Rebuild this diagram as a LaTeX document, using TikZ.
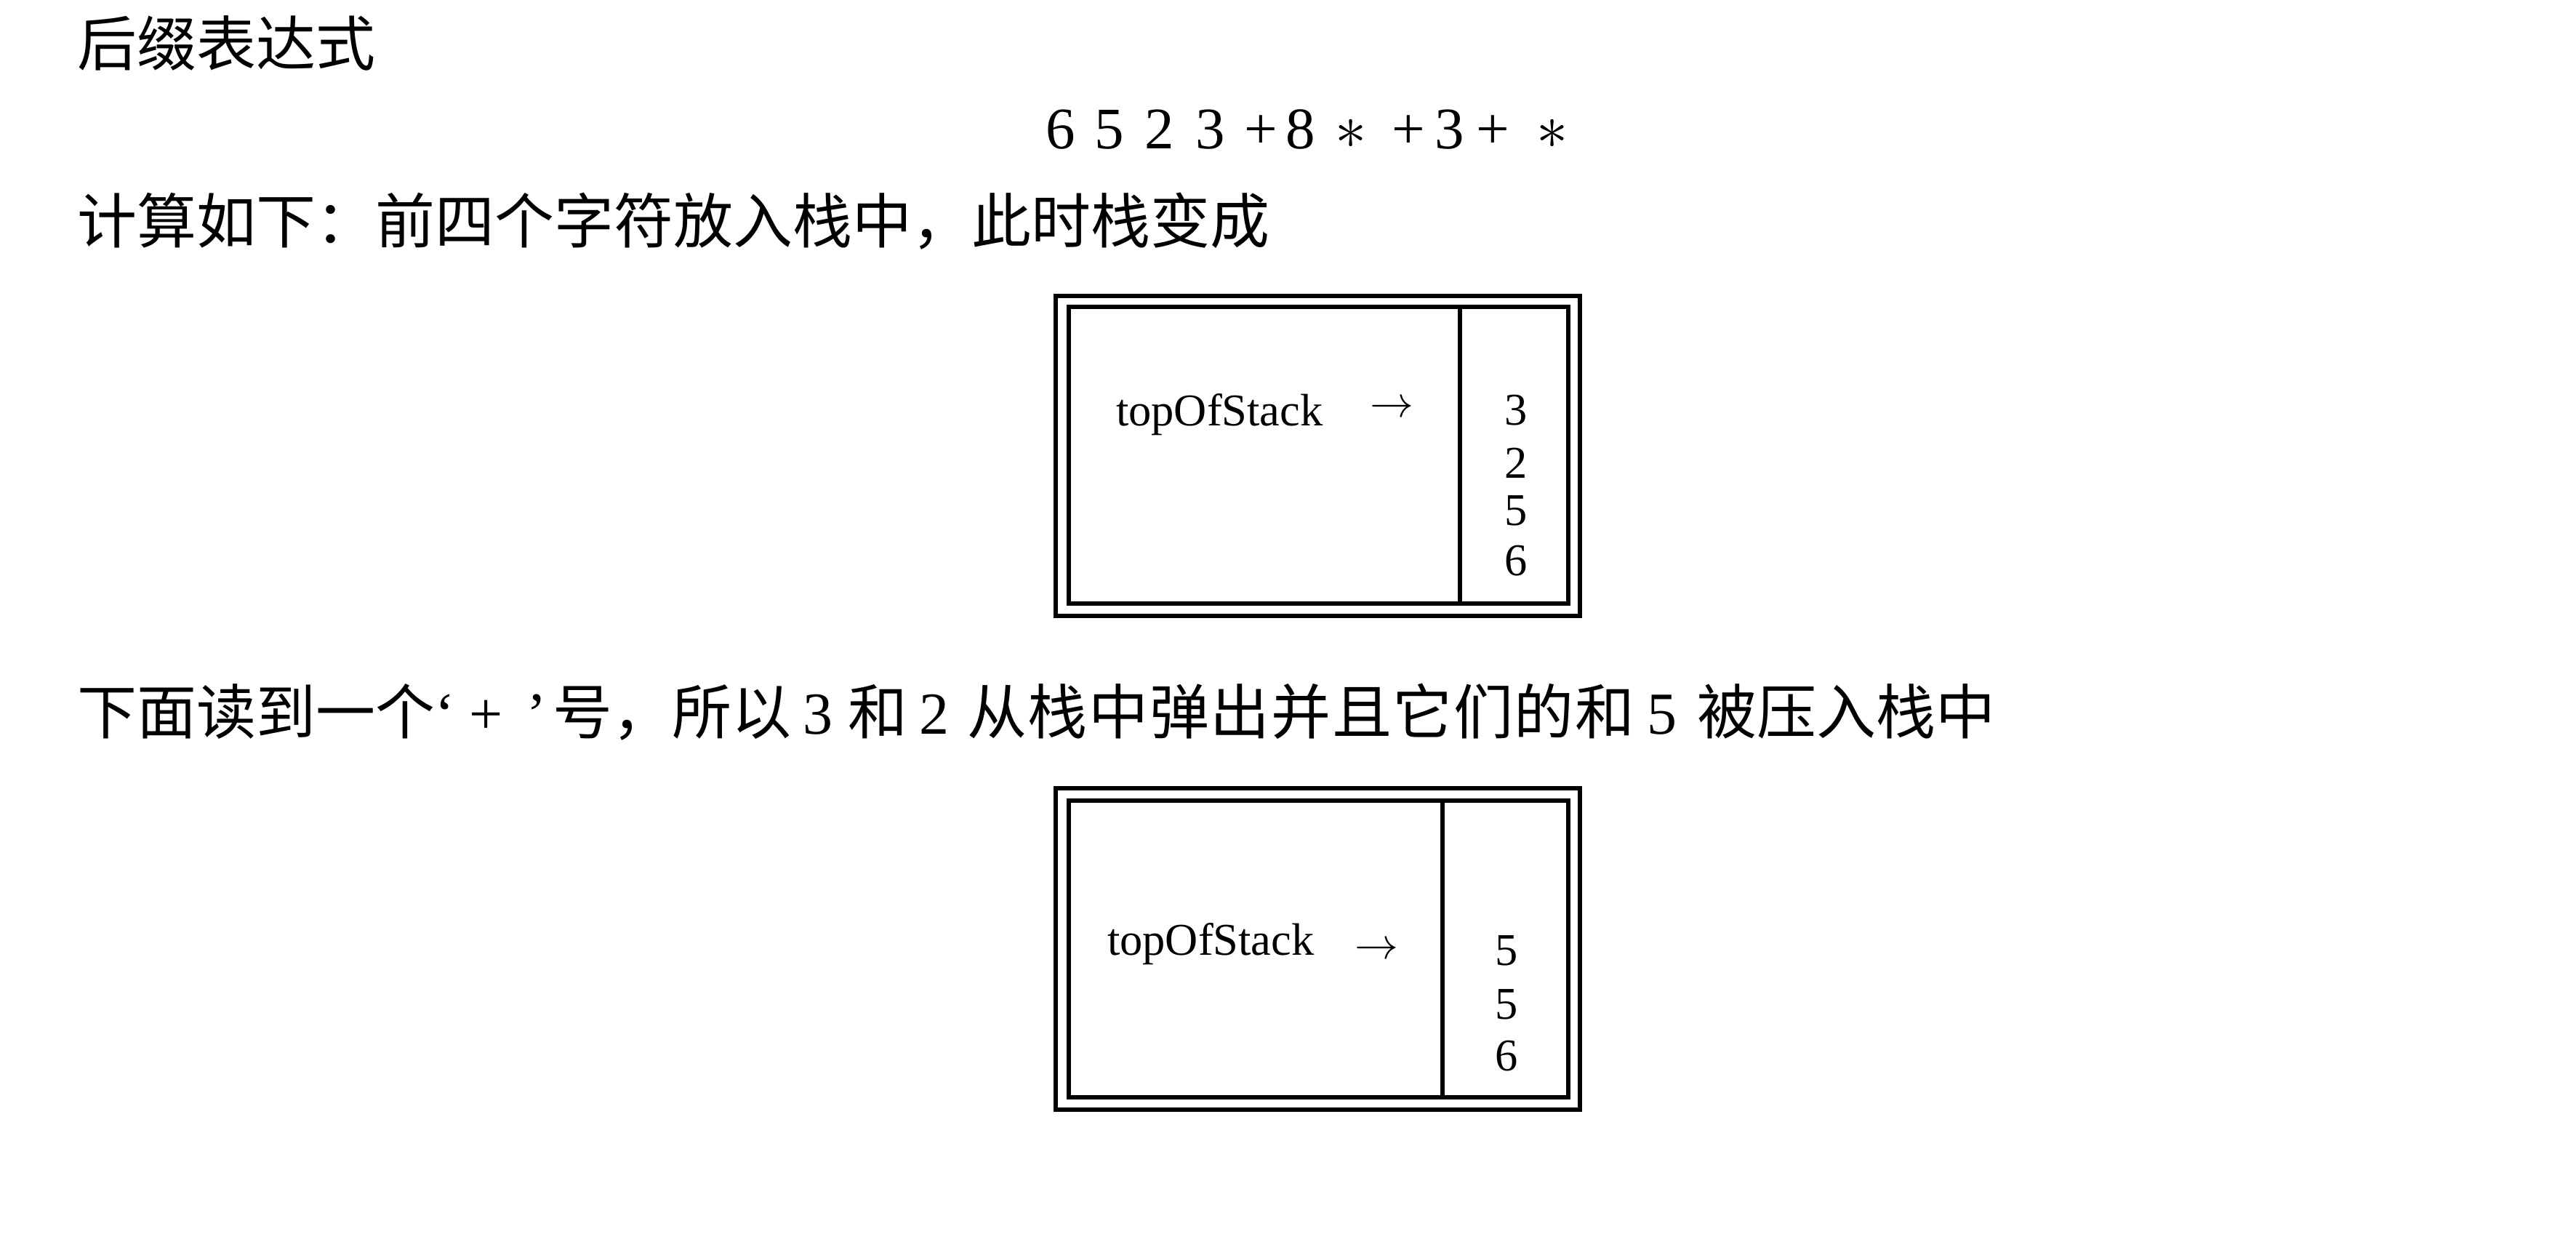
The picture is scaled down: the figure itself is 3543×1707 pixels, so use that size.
\documentclass[tikz,border=0pt]{standalone}
\usepackage{fontspec}
\setmainfont{Liberation Serif}
\newfontfamily\cjk{Noto Sans CJK SC}
\tikzset{
  frame/.style={line width=1.1pt},
  bigtext/.style={font=\fontsize{16.4pt}{20pt}\selectfont, anchor=base west, inner sep=0pt},
  boxtext/.style={font=\fontsize{12.5pt}{15pt}\selectfont, anchor=base west, inner sep=0pt},
  stacknum/.style={font=\fontsize{12.5pt}{15pt}\selectfont, anchor=base, inner sep=0pt},
  ptr/.style={font=\fontsize{12.5pt}{15pt}\selectfont, inner sep=0pt},
}
\begin{document}
\begin{tikzpicture}[x=0.2pt,y=-0.2pt]
\useasboundingbox (0,0) rectangle (3543,1707);
% text lines
\node[bigtext] (title) at (105,90) {\cjk 后缀表达式};
\node[bigtext, font=\fontsize{16.2pt}{20pt}\selectfont] (expr) at (1437,204)
  {6\hspace{5.4pt}5\hspace{5.8pt}2\hspace{5.8pt}3\hspace{5.4pt}+\hspace{2.2pt}8\hspace{5.4pt}$\ast$\hspace{7pt}+\hspace{2.6pt}3\hspace{3.4pt}+\hspace{7.4pt}$\ast$};
\node[bigtext] (calc) at (105,334) {\cjk 计算如下：前四个字符放入栈中，此时栈变成};
\node[bigtext] (next) at (105,1009) {{\cjk 下面读到一个}‘\hspace{0.25em}+\hspace{0.4em}’\hspace{0.1em}{\cjk 号，所以}\hspace{0.2em}3\hspace{0.25em}{\cjk 和}\hspace{0.2em}2\hspace{0.3em}{\cjk\addfontfeature{LetterSpace=2}从栈中弹出并且它们的和}\hspace{0.2em}5\hspace{0.35em}{\cjk 被压入栈中}};
% stack 1
\draw[frame] (1452,407) rectangle (2173,847);
\draw[frame] (1470,422) rectangle (2157,830);
\draw[frame] (2008,422) -- (2008,830);
\node[boxtext] (top1) at (1534,585) {topOfStack};
\node[ptr] (arr1) at (1914,562) {$\rightarrow$};
\node[stacknum] (s1a) at (2085,584) {3};
\node[stacknum] (s1b) at (2085,657) {2};
\node[stacknum] (s1c) at (2085,722) {5};
\node[stacknum] (s1d) at (2085,791) {6};
% stack 2
\draw[frame] (1452,1084) rectangle (2173,1526);
\draw[frame] (1470,1101) rectangle (2157,1509);
\draw[frame] (1984,1101) -- (1984,1509);
\node[boxtext] (top2) at (1522,1313) {topOfStack};
\node[ptr] (arr2) at (1893,1307) {$\rightarrow$};
\node[stacknum] (s2a) at (2072,1327) {5};
\node[stacknum] (s2b) at (2072,1401) {5};
\node[stacknum] (s2c) at (2072,1472) {6};
\end{tikzpicture}
\end{document}
